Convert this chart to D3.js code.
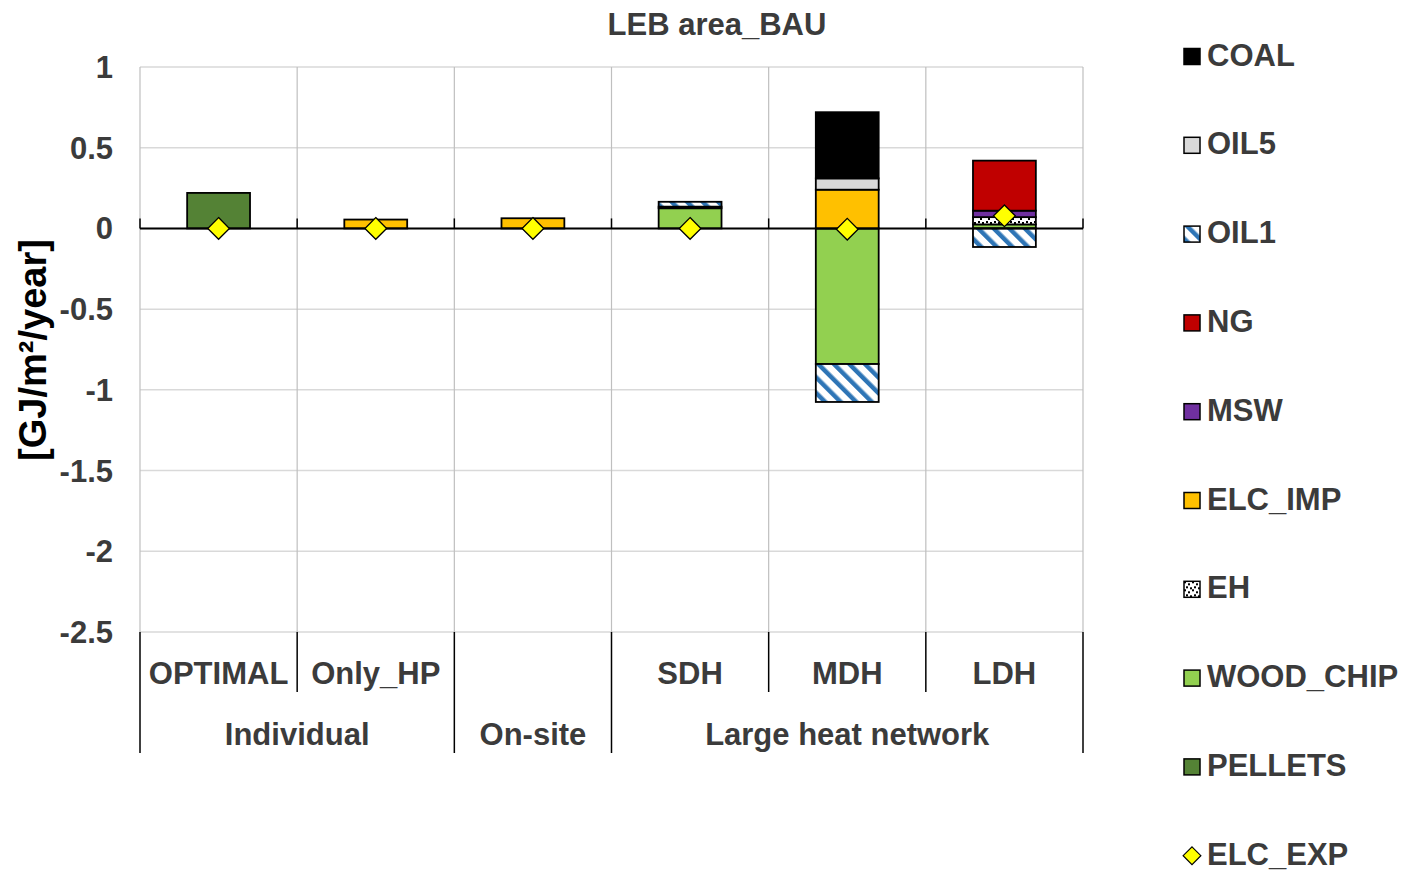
<!DOCTYPE html>
<html>
<head>
<meta charset="utf-8">
<script src="https://cdn.jsdelivr.net/npm/d3@7"></script>
<style>
  body { margin: 0; background: #fff; }
  text { font-family: "Liberation Sans", Arial, sans-serif; font-weight: bold; }
</style>
</head>
<body>
<div id="chart"></div>
<script>
// categories and group labels
const categories = ["OPTIMAL", "Only_HP", "On-site", "SDH", "MDH", "LDH"];
const categoryLabels = ["OPTIMAL", "Only_HP", "", "SDH", "MDH", "LDH"];
const groupNames = ["Individual", "On-site", "Large heat network"];
const groupSpans = [2, 1, 3];
const yTicks = [1, 0.5, 0, -0.5, -1, -1.5, -2, -2.5];

// series values (GJ/m2/year), one per category
const coal     = [0, 0, 0, 0, 0.41, 0];
const oil5     = [0, 0, 0, 0, 0.07, 0];
const oil1     = [0, 0, 0, 0.03, -0.235, -0.115];
const ng       = [0, 0, 0, 0, 0, 0.31];
const msw      = [0, 0, 0, 0, 0, 0.04];
const elcImp   = [0, 0.055, 0.063, 0.01, 0.24, 0];
const eh       = [0, 0, 0, 0, 0, 0.045];
const woodChip = [0, 0, 0, 0.125, -0.84, 0.025];
const pellets  = [0.22, 0, 0, 0, 0, 0];
const elcExp   = [0, 0, 0, 0, -0.005, 0.078];

const seriesNames = ["COAL", "OIL5", "OIL1", "NG", "MSW", "ELC_IMP", "EH", "WOOD_CHIP", "PELLETS", "ELC_EXP"];

const svg = d3.select("#chart").append("svg")
    .attr("width", 1408)
    .attr("height", 878);

const defs = svg.append("defs");

// blue diagonal hatch for OIL1
const hatch = defs.append("pattern")
    .attr("id", "hatch")
    .attr("patternUnits", "userSpaceOnUse")
    .attr("width", 11).attr("height", 11)
    .attr("patternTransform", "rotate(-45)");
hatch.append("rect").attr("width", 11).attr("height", 11).attr("fill", "#fff");
hatch.append("rect").attr("width", 4.5).attr("height", 11).attr("fill", "#2E75B6");

// small checker dots for EH
const checker = defs.append("pattern")
    .attr("id", "checker")
    .attr("patternUnits", "userSpaceOnUse")
    .attr("width", 8).attr("height", 8);
checker.append("rect").attr("width", 8).attr("height", 8).attr("fill", "#fff");
[[0, 0], [4, 2], [2, 5], [6, 6]].forEach(p => {
    checker.append("rect").attr("x", p[0]).attr("y", p[1]).attr("width", 2).attr("height", 2).attr("fill", "#000");
});

const fills = {
    COAL: "#000000",
    OIL5: "#D9D9D9",
    OIL1: "url(#hatch)",
    NG: "#C00000",
    MSW: "#7030A0",
    ELC_IMP: "#FFC000",
    EH: "url(#checker)",
    WOOD_CHIP: "#92D050",
    PELLETS: "#548235"
};

const plotLeft = 140, plotRight = 1083, plotTop = 67, plotBottom = 632;

const x = d3.scaleBand()
    .domain(categories)
    .range([plotLeft, plotRight])
    .padding(0);

const y = d3.scaleLinear()
    .domain([-2.5, 1])
    .range([plotBottom, plotTop]);

const textColor = "#3B3B3B";

// horizontal gridlines
svg.append("g")
    .selectAll("line")
    .data(yTicks)
    .join("line")
    .attr("x1", plotLeft).attr("x2", plotRight)
    .attr("y1", d => y(d)).attr("y2", d => y(d))
    .attr("stroke", "#D9D9D9")
    .attr("stroke-width", 1.5);

// vertical category gridlines inside plot
const bounds = categories.map(c => x(c)).concat([plotRight]);
svg.append("g")
    .selectAll("line")
    .data(bounds)
    .join("line")
    .attr("x1", d => d).attr("x2", d => d)
    .attr("y1", plotTop).attr("y2", plotBottom)
    .attr("stroke", "#BFBFBF")
    .attr("stroke-width", 1.2);

// y tick labels
svg.append("g")
    .selectAll("text")
    .data(yTicks)
    .join("text")
    .attr("x", 113)
    .attr("y", d => y(d) + 11)
    .attr("text-anchor", "end")
    .attr("font-size", 31)
    .attr("fill", textColor)
    .text(d => d);

// stacked bars
const rows = categories.map((c, i) => ({
    cat: c,
    PELLETS: pellets[i], WOOD_CHIP: woodChip[i], EH: eh[i], ELC_IMP: elcImp[i],
    MSW: msw[i], NG: ng[i], OIL1: oil1[i], OIL5: oil5[i], COAL: coal[i]
}));
const stackKeys = ["PELLETS", "WOOD_CHIP", "EH", "ELC_IMP", "MSW", "NG", "OIL1", "OIL5", "COAL"];
const stacked = d3.stack()
    .keys(stackKeys)
    .offset(d3.stackOffsetDiverging)(rows);

const barW = x.bandwidth() * 0.4;

svg.append("g")
    .selectAll("g")
    .data(stacked)
    .join("g")
    .attr("fill", d => fills[d.key])
    .selectAll("rect")
    .data(d => d.filter(s => s[1] - s[0] !== 0))
    .join("rect")
    .attr("x", d => x(d.data.cat) + (x.bandwidth() - barW) / 2)
    .attr("y", d => y(Math.max(d[0], d[1])))
    .attr("width", barW)
    .attr("height", d => Math.abs(y(d[0]) - y(d[1])))
    .attr("stroke", "#000")
    .attr("stroke-width", 1.8);

// zero line with small ticks
svg.append("line")
    .attr("x1", plotLeft).attr("x2", plotRight)
    .attr("y1", y(0)).attr("y2", y(0))
    .attr("stroke", "#000")
    .attr("stroke-width", 2);
svg.append("g")
    .selectAll("line")
    .data(bounds)
    .join("line")
    .attr("x1", d => d).attr("x2", d => d)
    .attr("y1", y(0) - 10).attr("y2", y(0))
    .attr("stroke", "#000")
    .attr("stroke-width", 1.5);

// ELC_EXP diamonds
const diamond = d3.symbol().type(d3.symbolDiamond2).size(300);
svg.append("g")
    .selectAll("path")
    .data(elcExp)
    .join("path")
    .attr("d", diamond)
    .attr("transform", (d, i) => `translate(${x(categories[i]) + x.bandwidth() / 2},${y(d)})`)
    .attr("fill", "#FFFF00")
    .attr("stroke", "#000")
    .attr("stroke-width", 1.3);

// multi-level category axis
const row1 = 692, row2 = 753;
svg.append("g")
    .selectAll("text")
    .data(categoryLabels)
    .join("text")
    .attr("x", (d, i) => x(categories[i]) + x.bandwidth() / 2)
    .attr("y", 684)
    .attr("text-anchor", "middle")
    .attr("font-size", 31)
    .attr("fill", textColor)
    .text(d => d);

// group boundaries
let start = 0;
const groupInfo = groupNames.map((g, i) => {
    const s = start;
    start += groupSpans[i];
    return { name: g, from: s, to: start };
});
const groupEdges = new Set(groupInfo.map(g => g.from).concat([categories.length]));

svg.append("g")
    .selectAll("line")
    .data(d3.range(categories.length + 1))
    .join("line")
    .attr("x1", i => bounds[i]).attr("x2", i => bounds[i])
    .attr("y1", plotBottom)
    .attr("y2", i => groupEdges.has(i) ? row2 : row1)
    .attr("stroke", "#000")
    .attr("stroke-width", 1.5);

svg.append("g")
    .selectAll("text")
    .data(groupInfo)
    .join("text")
    .attr("x", g => (bounds[g.from] + bounds[g.to]) / 2)
    .attr("y", 745)
    .attr("text-anchor", "middle")
    .attr("font-size", 31)
    .attr("fill", textColor)
    .text(g => g.name);

// title
svg.append("text")
    .attr("x", 717)
    .attr("y", 35)
    .attr("text-anchor", "middle")
    .attr("font-size", 31)
    .attr("fill", textColor)
    .text("LEB area_BAU");

// y axis title
svg.append("text")
    .attr("transform", "translate(46,350) rotate(-90)")
    .attr("text-anchor", "middle")
    .attr("font-size", 38)
    .attr("fill", "#000")
    .text("[GJ/m²/year]");

// legend
const legend = svg.append("g")
    .selectAll("g")
    .data(seriesNames)
    .join("g")
    .attr("transform", (d, i) => `translate(1192,${56.5 + i * 88.8})`);

legend.filter(d => d !== "ELC_EXP")
    .append("rect")
    .attr("x", -8).attr("y", -8)
    .attr("width", 16).attr("height", 16)
    .attr("fill", d => fills[d])
    .attr("stroke", "#000")
    .attr("stroke-width", 1.5);

legend.filter(d => d === "ELC_EXP")
    .append("path")
    .attr("d", d3.symbol().type(d3.symbolDiamond2).size(200))
    .attr("fill", "#FFFF00")
    .attr("stroke", "#000")
    .attr("stroke-width", 1.2);

legend.append("text")
    .attr("x", 15)
    .attr("y", 9)
    .attr("font-size", 31)
    .attr("fill", textColor)
    .text(d => d);
</script>
</body>
</html>
